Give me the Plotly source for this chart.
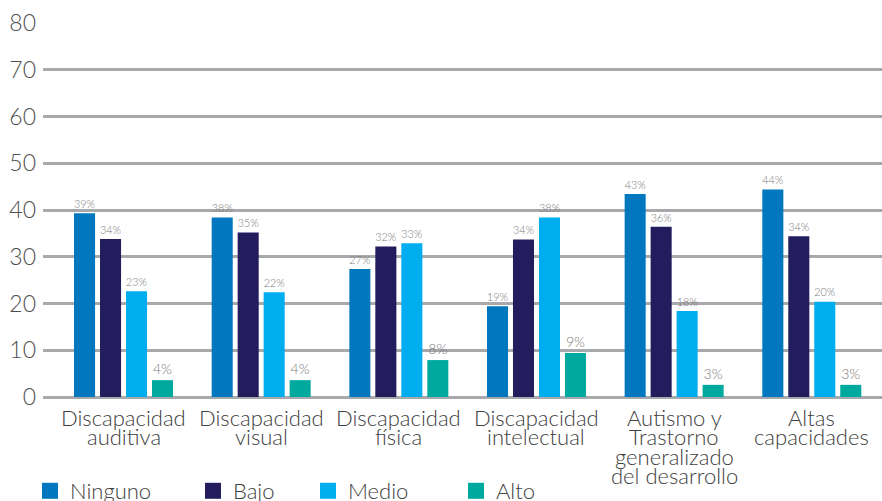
import plotly.graph_objects as go

# Categories and the lines of each axis label
categories = ["Discapacidad auditiva", "Discapacidad visual", "Discapacidad física",
              "Discapacidad intelectual", "Autismo y Trastorno generalizado del desarrollo",
              "Altas capacidades"]
label_lines = [["Discapacidad", "auditiva"], ["Discapacidad", "visual"],
               ["Discapacidad", "física"], ["Discapacidad", "intelectual"],
               ["Autismo y", "Trastorno", "generalizado", "del desarrollo"],
               ["Altas", "capacidades"]]

series_names = ["Ninguno", "Bajo", "Medio", "Alto"]
ninguno = [39.3, 38.4, 27.4, 19.4, 43.4, 44.4]
bajo = [33.8, 35.2, 32.2, 33.7, 36.4, 34.4]
medio = [22.6, 22.4, 32.9, 38.4, 18.4, 20.4]
alto = [3.6, 3.6, 7.9, 9.4, 2.6, 2.6]
series_values = [ninguno, bajo, medio, alto]
colors = ["#0077BE", "#231D5E", "#00AEEF", "#00A99D"]

y_ticks = [0, 10, 20, 30, 40, 50, 60, 70, 80]

FONT = "Lato"
legend_x = [30, 193, 308, 456]  # pixel positions of legend boxes

fig = go.Figure()
legend_ids = ["legend", "legend2", "legend3", "legend4"]
for name, vals, col, lid in zip(series_names, series_values, colors, legend_ids):
    fig.add_trace(go.Bar(
        name=name, x=list(range(len(categories))), y=vals,
        marker=dict(color=col, line=dict(width=0)),
        text=vals, texttemplate="%{y:.0f}%", textposition="outside",
        textfont=dict(family=FONT, size=14, color="#7A7A7A", weight=300),
        cliponaxis=False, showlegend=False,
    ))
    # square swatch shown in the legend
    fig.add_trace(go.Scatter(
        name=name, x=[None], y=[None], mode="markers",
        marker=dict(symbol="square", size=16, color=col),
        legend=lid, showlegend=True, hoverinfo="skip",
    ))

W, H = 882, 501
ml, mr, mt, mb = 43, 0, 23, 104

layout_legends = {}
for lid, px in zip(legend_ids, legend_x):
    layout_legends[lid] = dict(
        x=(px - ml) / (W - ml - mr), xanchor="left",
        y=-(491 - (H - mb)) / (H - mt - mb), yanchor="middle",
        orientation="h", bgcolor="rgba(0,0,0,0)",
        font=dict(family=FONT, size=22, color="#404040", weight=300),
        itemclick=False, tracegroupgap=0, itemsizing="trace",
    )

fig.update_layout(
    width=W, height=H,
    margin=dict(l=ml, r=mr, t=mt, b=mb, autoexpand=False),
    paper_bgcolor="white", plot_bgcolor="white",
    barmode="group", bargap=0.245, bargroupgap=0.19,
    showlegend=True,
    **layout_legends,
    xaxis=dict(range=[-0.585, 5.51], showticklabels=False, showgrid=False,
               zeroline=False, showline=False, fixedrange=True),
    yaxis=dict(range=[0, 80], tickvals=y_ticks, showgrid=True,
               gridcolor="#A7A9AC", gridwidth=2.6, zeroline=True,
               zerolinecolor="#A7A9AC", zerolinewidth=2.6, ticks="",
               ticklabelstandoff=6,
               tickfont=dict(family=FONT, size=23, color="#505050", weight=300)),
)

# Category labels, one annotation per line for tight line spacing
for i, lines in enumerate(label_lines):
    for j, line in enumerate(lines):
        fig.add_annotation(
            x=i, xref="x", y=-(417 + 19.5 * j - (H - mb)) / (H - mt - mb), yref="paper",
            text=line, showarrow=False, xanchor="center", yanchor="middle",
            font=dict(family=FONT, size=22, color="#404040", weight=300),
        )

fig.write_html("out.html")
